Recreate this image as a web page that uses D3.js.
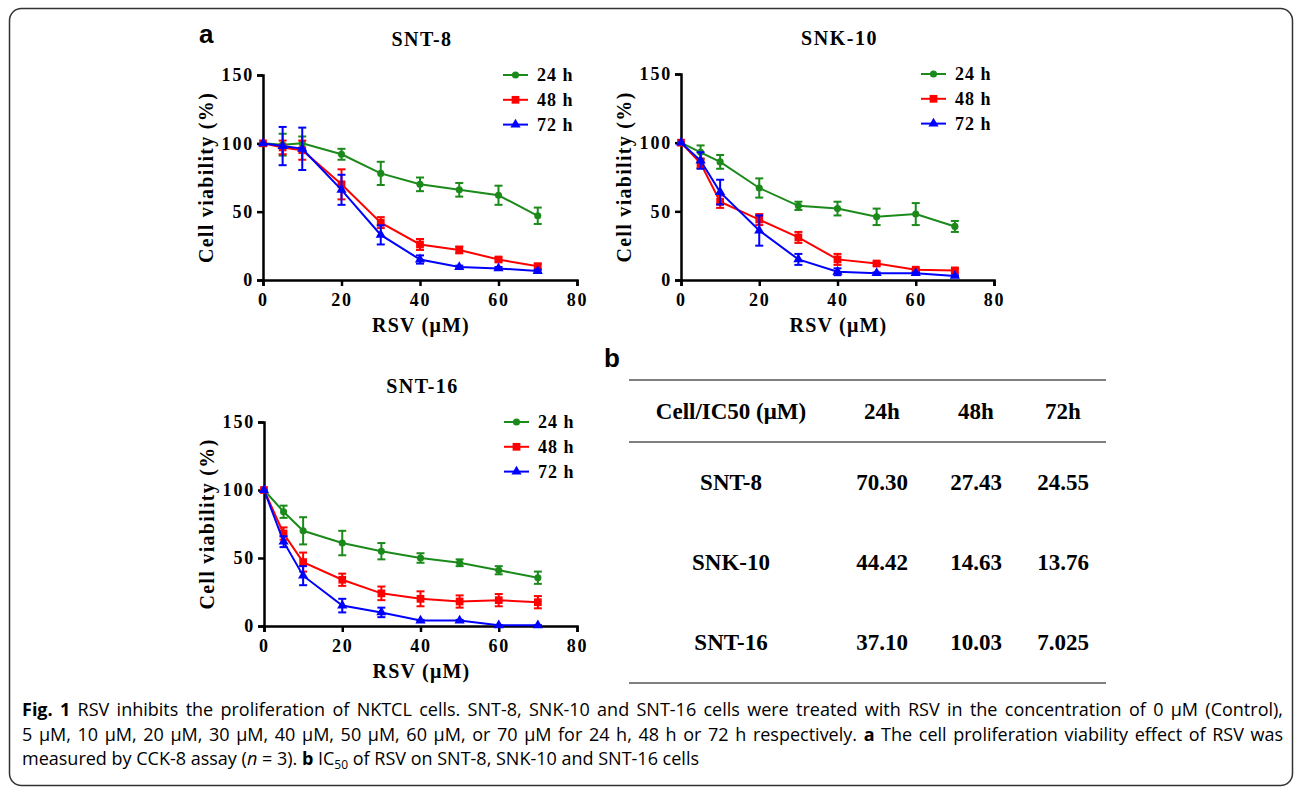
<!DOCTYPE html>
<html>
<head>
<meta charset="utf-8">
<script src="https://cdn.jsdelivr.net/npm/d3@7"></script>
<style>
  html, body { margin: 0; padding: 0; background: #fff; }
  svg text { fill: #000; }
</style>
</head>
<body>
<svg id="fig" width="1295" height="788"></svg>
<script>
// concentrations of RSV (µM)
const conc = [0, 5, 10, 20, 30, 40, 50, 60, 70];
const timeLabels = ['24 h', '48 h', '72 h'];
const xTicks = [0, 20, 40, 60, 80];
const yTicks = [0, 50, 100, 150];

// SNT-8
const snt8Mean = [
  [100, 99, 100, 92, 78, 70, 66, 62, 47],
  [100, 97, 95, 70, 42, 26, 22, 15, 10],
  [100, 98, 96, 66, 33, 15, 9.5, 8.5, 6.5]
];
const snt8Err = [
  [0, 8, 5, 4, 8.5, 5, 5, 7, 6],
  [0, 5, 7, 11, 4, 4, 2.5, 1.5, 2],
  [0, 14, 15.5, 11, 7, 3, 1, 1, 1]
];

// SNK-10
const snk10Mean = [
  [100, 93, 86, 67, 54, 52, 46, 48, 39],
  [100, 85, 57, 44, 31, 15, 12, 7.5, 7],
  [100, 87, 64, 36, 15, 6, 5, 5, 3]
];
const snk10Err = [
  [0, 5, 5, 7, 3, 5, 6, 8, 4],
  [0, 3.5, 4.5, 4, 4, 4, 1.5, 1, 1.5],
  [0, 6, 9, 11, 4, 2.5, 0.5, 0.5, 0.5]
];

// SNT-16
const snt16Mean = [
  [100, 84, 70, 61, 55, 50, 46.5, 41, 35.5],
  [100, 68, 47, 34, 24, 20, 18, 19, 17.5],
  [100, 62, 37, 15, 10, 4, 4, 0.5, 0.5]
];
const snt16Err = [
  [0, 4.5, 10, 9, 6, 3.5, 2.5, 3, 4.5],
  [0, 4.5, 7, 4.5, 5, 5.5, 4.5, 4.5, 4.5],
  [0, 4, 7, 5, 3.5, 0.5, 0.5, 0.2, 0.2]
];

// table b
const tableHeader = ['Cell/IC50 (\u03bcM)', '24h', '48h', '72h'];
const tableCells = ['SNT-8', 'SNK-10', 'SNT-16'];
const ic50Values = [
  ['70.30', '27.43', '24.55'],
  ['44.42', '14.63', '13.76'],
  ['37.10', '10.03', '7.025']
];

const colors = ['#1b8a1b', '#ff0000', '#0000ff'];
const serif = '"Liberation Serif", "Times New Roman", serif';
const sans = '"Liberation Sans", Arial, sans-serif';

const svg = d3.select('#fig');

// outer frame
svg.append('rect')
  .attr('x', 9.5).attr('y', 8.5)
  .attr('width', 1283).attr('height', 777)
  .attr('rx', 12)
  .attr('fill', 'none')
  .attr('stroke', '#333')
  .attr('stroke-width', 1.5);

const panels = [
  { title: 'SNT-8', mean: snt8Mean, err: snt8Err, x0: 263, x1: 577, y0: 280, y1: 75 },
  { title: 'SNK-10', mean: snk10Mean, err: snk10Err, x0: 681, x1: 994, y0: 280, y1: 74 },
  { title: 'SNT-16', mean: snt16Mean, err: snt16Err, x0: 264, x1: 577, y0: 626, y1: 422 }
];

function drawPanel(p) {
  const x = d3.scaleLinear().domain([0, 80]).range([p.x0, p.x1]);
  const y = d3.scaleLinear().domain([0, 150]).range([p.y0, p.y1]);
  const g = svg.append('g');

  // title
  g.append('text')
    .attr('x', (p.x0 + p.x1) / 2 + 2)
    .attr('y', p.y1 - 29)
    .attr('text-anchor', 'middle')
    .style('font-family', serif).style('font-weight', 'bold')
    .style('font-size', '20px').style('letter-spacing', '1.5px')
    .text(p.title);

  // axes
  const xAxis = g.append('g')
    .attr('transform', `translate(0,${p.y0})`)
    .call(d3.axisBottom(x).tickValues(xTicks).tickSize(6).tickSizeOuter(6).tickPadding(7));
  const yAxis = g.append('g')
    .attr('transform', `translate(${p.x0},0)`)
    .call(d3.axisLeft(y).tickValues(yTicks).tickSize(6).tickSizeOuter(6).tickPadding(3));

  [xAxis, yAxis].forEach(a => {
    a.attr('font-family', null);
    a.select('.domain').attr('stroke', '#000').attr('stroke-width', 2.5);
    a.selectAll('.tick line').attr('stroke', '#000').attr('stroke-width', 2.5);
    a.selectAll('.tick text')
      .style('font-family', serif).style('font-weight', 'bold')
      .style('font-size', '18px').style('letter-spacing', '1.8px')
      .attr('fill', '#000');
  });

  // axis titles
  g.append('text')
    .attr('x', (p.x0 + p.x1) / 2 + 1)
    .attr('y', p.y0 + 52)
    .attr('text-anchor', 'middle')
    .style('font-family', serif).style('font-weight', 'bold')
    .style('font-size', '20px').style('letter-spacing', '1.2px')
    .text('RSV (\u03bcM)');

  g.append('text')
    .attr('transform', `translate(${p.x0 - 50},${(p.y0 + p.y1) / 2}) rotate(-90)`)
    .attr('text-anchor', 'middle')
    .style('font-family', serif).style('font-weight', 'bold')
    .style('font-size', '20px').style('letter-spacing', '1.3px')
    .text('Cell viability (%)');

  // series
  const line = d3.line().x(d => x(d[0])).y(d => y(d[1]));
  p.mean.forEach((m, s) => {
    const pts = conc.map((c, i) => [c, m[i], p.err[s][i]]);
    const sg = g.append('g');
    sg.append('path')
      .datum(pts)
      .attr('fill', 'none')
      .attr('stroke', colors[s])
      .attr('stroke-width', 2)
      .attr('d', line);

    // error bars
    const eb = sg.selectAll('.eb').data(pts.filter(d => d[2] > 0)).enter().append('g');
    eb.append('line')
      .attr('x1', d => x(d[0])).attr('x2', d => x(d[0]))
      .attr('y1', d => y(d[1] - d[2])).attr('y2', d => y(d[1] + d[2]))
      .attr('stroke', colors[s]).attr('stroke-width', 2);
    [-1, 1].forEach(sign => {
      eb.append('line')
        .attr('x1', d => x(d[0]) - 4).attr('x2', d => x(d[0]) + 4)
        .attr('y1', d => y(d[1] + sign * d[2])).attr('y2', d => y(d[1] + sign * d[2]))
        .attr('stroke', colors[s]).attr('stroke-width', 2);
    });

    // markers
    sg.selectAll('.mk').data(pts).enter().append('path')
      .attr('transform', d => `translate(${x(d[0])},${y(d[1])})`)
      .attr('d', markerPath(s))
      .attr('fill', colors[s]);

    // legend
    const ly = p.y1 + s * 24.8;
    const lx = p.x0 + 240;
    sg.append('line')
      .attr('x1', lx).attr('x2', lx + 25)
      .attr('y1', ly).attr('y2', ly)
      .attr('stroke', colors[s]).attr('stroke-width', 2);
    sg.append('path')
      .attr('transform', `translate(${lx + 12.5},${ly})`)
      .attr('d', markerPath(s))
      .attr('fill', colors[s]);
    sg.append('text')
      .attr('x', lx + 34).attr('y', ly + 6)
      .style('font-family', serif).style('font-weight', 'bold')
      .style('font-size', '18px').style('letter-spacing', '1px')
      .text(timeLabels[s]);
  });
}

function markerPath(s) {
  if (s === 0) return d3.symbol(d3.symbolCircle, 40)();
  if (s === 1) return d3.symbol(d3.symbolSquare, 60)();
  return d3.symbol(d3.symbolTriangle, 45)();
}

panels.forEach(drawPanel);

// panel letters
svg.append('text').attr('x', 199).attr('y', 43)
  .style('font-family', sans).style('font-weight', 'bold').style('font-size', '26px')
  .text('a');
svg.append('text').attr('x', 604).attr('y', 367)
  .style('font-family', sans).style('font-weight', 'bold').style('font-size', '26px')
  .text('b');

// table b
const colX = d3.scaleOrdinal().domain(d3.range(4)).range([731, 882, 976, 1063]);
const rowY = d3.scaleOrdinal().domain(d3.range(3)).range([490, 570, 650]);
const tbl = svg.append('g')
  .style('font-family', serif).style('font-weight', 'bold').style('font-size', '23px');

[380, 442, 683].forEach(ly => {
  tbl.append('line')
    .attr('x1', 629).attr('x2', 1106)
    .attr('y1', ly).attr('y2', ly)
    .attr('stroke', '#555').attr('stroke-width', 1.5);
});

tbl.selectAll('.hd').data(tableHeader).enter().append('text')
  .attr('x', (d, i) => colX(i)).attr('y', 419)
  .attr('text-anchor', 'middle')
  .text(d => d);

tableCells.forEach((cell, r) => {
  const row = [cell].concat(ic50Values[r]);
  tbl.selectAll('.r' + r).data(row).enter().append('text')
    .attr('x', (d, i) => colX(i)).attr('y', rowY(r))
    .attr('text-anchor', 'middle')
    .text(d => d);
});

// caption
const cap = svg.append('g')
  .style('font-family', '"Open Sans", "Noto Sans", sans-serif')
  .style('font-size', '18px');

const l1 = cap.append('text').attr('x', 22).attr('y', 716);
l1.append('tspan').style('font-weight', 'bold').text('Fig. 1');
l1.append('tspan').text(' RSV inhibits the proliferation of NKTCL cells. SNT-8, SNK-10 and SNT-16 cells were treated with RSV in the concentration of 0 \u03bcM (Control),');

const l2 = cap.append('text').attr('x', 22).attr('y', 741);
l2.append('tspan').text('5 \u03bcM, 10 \u03bcM, 20 \u03bcM, 30 \u03bcM, 40 \u03bcM, 50 \u03bcM, 60 \u03bcM, or 70 \u03bcM for 24 h, 48 h or 72 h respectively. ');
l2.append('tspan').style('font-weight', 'bold').text('a');
l2.append('tspan').text(' The cell proliferation viability effect of RSV was');

const l3 = cap.append('text').attr('x', 22).attr('y', 765);
l3.append('tspan').text('measured by CCK-8 assay (');
l3.append('tspan').style('font-style', 'italic').text('n');
l3.append('tspan').text(' = 3). ');
l3.append('tspan').style('font-weight', 'bold').text('b');
l3.append('tspan').text(' IC');
l3.append('tspan').attr('dy', 4).style('font-size', '12px').text('50');
l3.append('tspan').attr('dy', -4).text(' of RSV on SNT-8, SNK-10 and SNT-16 cells');

cap.selectAll('text').attr('fill', '#222');

// justify first two lines by adjusting word spacing (or squeezing if too long)
[l1, l2].forEach(t => {
  const target = 1261;
  const w = t.node().getComputedTextLength();
  const spaces = (t.text().match(/ /g) || []).length;
  if (w < target) {
    t.style('word-spacing', ((target - w) / spaces) + 'px');
  } else {
    t.attr('textLength', target).attr('lengthAdjust', 'spacingAndGlyphs');
  }
});
</script>
</body>
</html>
